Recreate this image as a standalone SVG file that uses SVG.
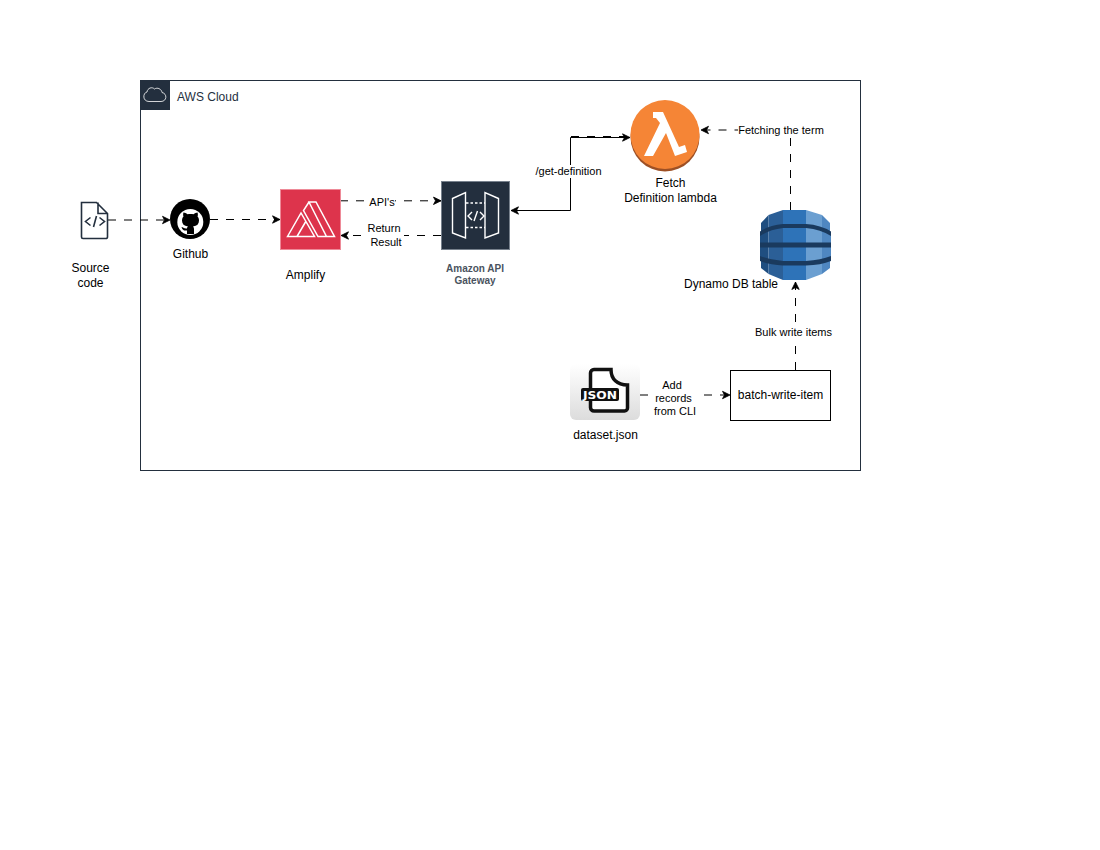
<svg xmlns="http://www.w3.org/2000/svg" width="1100" height="850" viewBox="0 0 1100 850">
<style>
text{font-family:"Liberation Sans",Arial,sans-serif;fill:#000;text-anchor:middle}
.n{font-size:12px}
.e{font-size:11px}
.c{fill:none;stroke:#000;stroke-width:1;stroke-dasharray:8 8}
.s{fill:none;stroke:#000;stroke-width:1}
.w{fill:none;stroke:#fff;stroke-width:1.500}
.g{fill:none;stroke:#fff;stroke-width:1.400}
.f{fill:none;stroke:#232F3E;stroke-width:1.600}
.lb{fill:#fff}
.gl{font-size:10px;font-weight:bold;fill:#4a5360}
</style>
<defs>
<marker id="a" markerWidth="10" markerHeight="10" refX="8" refY="5" orient="auto" markerUnits="userSpaceOnUse"><path d="M0.500 1.300L8 5L0.500 8.700L2.500 5Z" fill="#000" stroke="#000" stroke-width="0.800"/></marker>
<linearGradient id="jg" x1="0" y1="0" x2="0" y2="1"><stop offset="0" stop-color="#ffffff"/><stop offset="1" stop-color="#dcdcdc"/></linearGradient>
</defs>
<rect width="1100" height="850" fill="#fff"/>
<g id="aws-cloud">
<rect x="140.500" y="80.500" width="720" height="390" fill="#fff" stroke="#232F3E"/>
<rect x="140" y="80" width="30" height="30" fill="#232F3E"/>
<path d="M149 101.500h12c6 0 6.500-8 1-9c-.5-3.500-4.500-5.500-7.500-3.500c-2.500-2.500-7-1-7.500 3c-4.500 1-4.500 9.500 2 9.500Z" fill="none" stroke="#fff" stroke-width="0.800"/>
<text x="177" y="101" style="text-anchor:start;fill:#232F3E" class="n">AWS Cloud</text>
</g>
<g id="connectors">
<path class="c" d="M108 220H170" marker-end="url(#a)"/>
<path class="c" d="M210 219.500H280" marker-end="url(#a)"/>
<path class="c" d="M340 200.800H441" marker-end="url(#a)"/>
<path class="c" d="M441 235.500H341" marker-end="url(#a)"/>
<path class="s" d="M570.500 210.500H511" marker-end="url(#a)"/>
<path class="s" d="M570.500 210.500V137.500H630" marker-end="url(#a)"/>
<path class="c" d="M571 136.500H630"/>
<path class="c" d="M790.500 210V130H701" marker-end="url(#a)"/>
<path class="c" d="M795.500 370V282" marker-end="url(#a)"/>
<path class="c" d="M640 395H730" marker-end="url(#a)"/>
</g>
<g id="source-code">
<path class="f" d="M81.500 202.500h15l11 11v23.500a1.500 1.500 0 0 1-1.500 1.500h-23a1.500 1.500 0 0 1-1.500-1.500Z M98 202.500v11h9.500"/>
<path class="f" d="M90.500 217.500l-5 4l5 4M99.500 217.500l5 4l-5 4M96.500 216l-3 11"/>
<text class="n" x="90.500" y="272">Source</text>
<text class="n" x="90.500" y="287">code</text>
</g>
<g id="github">
<circle cx="190" cy="219" r="20" fill="#000"/>
<circle cx="190.300" cy="222" r="13" fill="#fff"/>
<path d="M187 234v-3.500c-3 .5-4.500-.5-5.500-3.500c1.500 0 2.500 2 5.500 1.500c0-1 .5-1.500 1-2c-4-.5-6-2.500-6-6c0-1.500.5-3 1.500-4c-.5-1-.5-2.500 0-4c1.500 0 2.500.8 4 1.800c2-.5 4-.5 6 0c1.500-1 2.500-1.800 4-1.800c.5 1.500 .5 3 0 4c1 1 1.500 2.500 1.500 4c0 3.500-2 5.500-6 6c.5.5 1 1.500 1 2.500v5Z" fill="#000"/>
<text class="n" x="190.500" y="258">Github</text>
</g>
<g id="amplify">
<rect x="280.500" y="189.500" width="60" height="60" fill="#DD344C" stroke="#EE8A98"/>
<path class="w" d="M309 202H316L334.500 236.500H326.500Z M309 202L303.500 210.500L318 236.500H326.500 M287.500 236.500L301 213L314.500 236.500Z M297 236.500L305.500 222"/>
<text class="n" x="305.500" y="279">Amplify</text>
</g>
<g id="api-gateway">
<rect x="441.500" y="181.500" width="68" height="68" fill="#232F3E" stroke="#77818D"/>
<path class="g" d="M452.500 198.500L465.500 192.500V238L452.500 233Z M498.500 198.500L485 192.500V238L498.500 233Z"/>
<path class="g" d="M466 203H485M466 227.500H485" stroke-dasharray="2.500 2"/>
<path class="g" d="M472 212l-4 4l4 4M480 212l4 4l-4 4M477.500 211l-3.500 10"/>
<text class="gl" x="475" y="272">Amazon API</text>
<text class="gl" x="475" y="284">Gateway</text>
</g>
<g id="lambda">
<circle cx="665" cy="137" r="34.500" fill="#9D5025"/>
<circle cx="665" cy="134.500" r="34.500" fill="#F58536"/>
<path d="M653 112H663L679 147L685 145L687 152L675 156L666 133L653 156H644L660 123L656 118H653Z" fill="#fff"/>
<text class="n" x="670.500" y="187">Fetch</text>
<text class="n" x="670.500" y="202">Definition lambda</text>
</g>
<g id="dynamodb">
<path d="M768.500 215L761 223V232L760 233V243L761 245L760 247V257L761 259V268L768.500 274V240Z" fill="#1F4E80"/>
<path d="M768.500 215L783 210V280L768.500 274Z" fill="#2B5F97"/>
<path d="M783 210H806V280H783Z" fill="#2E73B8"/>
<path d="M806 210L822 215V274L806 280Z" fill="#6B9FD1"/>
<path d="M822 215L830 223V232L831 233V243L830 245L831 247V257L830 259V268L822 274Z" fill="#4F87C1"/>
<path d="M760 231.500Q770 225 783 224H806Q821 225 831 231.500V236Q821 229.500 806 228H783Q770 229.500 760 236Z M760 242.500H831V247.500H760Z M760 256Q770 260 783 261H806Q821 260 831 256V261Q821 265 806 265.500H783Q770 265 760 261Z" fill="#1A3A5E"/>
<text class="n" x="731" y="288">Dynamo DB table</text>
</g>
<g id="dataset-json">
<rect x="570" y="364" width="70" height="56" rx="6" fill="url(#jg)"/>
<path d="M594 369.500H611C611 379 617 385 627.500 385V408a3 3 0 0 1-3 3H594a3.500 3.500 0 0 1-3.500-3.500V373a3.500 3.500 0 0 1 3.500-3.500Z" fill="#fff" stroke="#111" stroke-width="3.500"/>
<rect x="581" y="388" width="38" height="13" rx="2" fill="#111"/>
<text x="600" y="398.500" textLength="34" lengthAdjust="spacingAndGlyphs" style="font-family:'DejaVu Sans',sans-serif;font-size:10.500px;font-weight:bold;fill:#fff">JSON</text>
<text class="n" x="605.500" y="439">dataset.json</text>
</g>
<g id="batch-write-item">
<rect x="730.500" y="370.500" width="100" height="50" fill="#fff" stroke="#000"/>
<text class="n" x="780.500" y="399">batch-write-item</text>
</g>
<g id="edge-labels">
<rect class="lb" x="368" y="195" width="27" height="13"/>
<text class="e" x="382" y="206">API's</text>
<rect class="lb" x="366" y="222" width="38" height="26"/>
<text class="e" x="384" y="232">Return</text>
<text class="e" x="386" y="246">Result</text>
<rect class="lb" x="535" y="165" width="67" height="13"/>
<text class="e" x="568.500" y="175">/get-definition</text>
<rect class="lb" x="738" y="123" width="86" height="14"/>
<text class="e" x="781" y="134">Fetching the term</text>
<rect class="lb" x="755" y="326" width="77" height="13"/>
<text class="e" x="793.500" y="336">Bulk write items</text>
<rect class="lb" x="652" y="379" width="44" height="39"/>
<text class="e" x="672" y="389">Add</text>
<text class="e" x="673.500" y="402">records</text>
<text class="e" x="675" y="415">from CLI</text>
</g>
</svg>
